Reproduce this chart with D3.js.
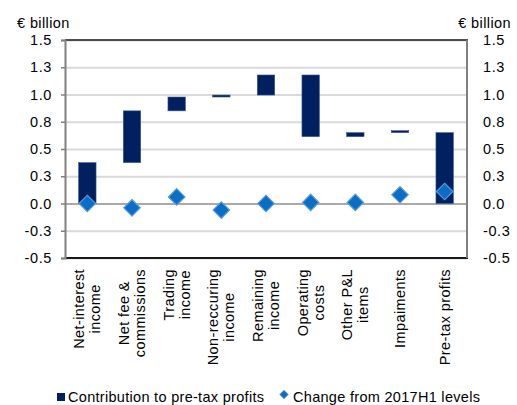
<!DOCTYPE html>
<html>
<head>
<meta charset="utf-8">
<script src="https://cdn.jsdelivr.net/npm/d3@7"></script>
<style>
  html, body { margin: 0; padding: 0; background: #ffffff; }
  svg { display: block; font-family: "Liberation Sans", Arial, sans-serif; }
</style>
</head>
<body>
<svg id="chart" width="517" height="405"></svg>
<script>
// ---- data ----
const categories = [
  ["Net-interest", "income"],
  ["Net fee &", "commissions"],
  ["Trading", "income"],
  ["Non-reccuring", "income"],
  ["Remaining", "income"],
  ["Operating", "costs"],
  ["Other P&L", "items"],
  ["Impaiments"],
  ["Pre-tax profits"]
];
const barLow  = [0.000, 0.375, 0.850, 0.977, 0.995, 0.613, 0.613, 0.650, 0.000];
const barHigh = [0.375, 0.850, 0.977, 0.995, 1.179, 1.179, 0.650, 0.668, 0.650];
const changeValues = [0.00, -0.04, 0.06, -0.06, 0.00, 0.01, 0.01, 0.08, 0.11];
const yTicks = [-0.5, -0.25, 0, 0.25, 0.5, 0.75, 1.0, 1.25, 1.5];
const yTickLabels = ["-0.5", "-0.3", "0.0", "0.3", "0.5", "0.8", "1.0", "1.3", "1.5"];
const unitLabel = "€ billion";
const seriesNames = ["Contribution to pre-tax profits", "Change from 2017H1 levels"];

// ---- layout ----
const svg = d3.select("#chart");
const plot = { left: 65, right: 467, top: 40, bottom: 258 };
const barColor = "#002060";
const diamondColor = "#0a6ec4";

const x = d3.scaleBand()
  .domain(d3.range(categories.length))
  .range([plot.left, plot.right])
  .paddingInner(0).paddingOuter(0);
const y = d3.scaleLinear().domain([-0.5, 1.5]).range([plot.bottom, plot.top]);

svg.append("rect").attr("width", 517).attr("height", 405).attr("fill", "#fff");

// gridlines
const grid = svg.append("g")
  .attr("transform", `translate(${plot.left},0)`)
  .call(d3.axisLeft(y).tickValues(yTicks).tickSize(-(plot.right - plot.left)).tickFormat(""));
grid.select(".domain").remove();
grid.selectAll(".tick line")
  .attr("stroke", d => d === 0 ? "#8c8c8c" : "#d9d9d9")
  .attr("stroke-width", d => d === 0 ? 1.5 : 2);

// plot border: top & bottom dark, right gray
svg.append("line").attr("x1", plot.left).attr("x2", plot.right + 1)
  .attr("y1", y(1.5)).attr("y2", y(1.5)).attr("stroke", "#1a1a1a").attr("stroke-width", 1.5);
svg.append("line").attr("x1", plot.left).attr("x2", plot.right + 1)
  .attr("y1", y(-0.5)).attr("y2", y(-0.5)).attr("stroke", "#1a1a1a").attr("stroke-width", 2);
svg.append("line").attr("x1", plot.right).attr("x2", plot.right)
  .attr("y1", y(1.5)).attr("y2", y(-0.5)).attr("stroke", "#808080").attr("stroke-width", 2);

// left axis
const leftAxis = svg.append("g")
  .attr("transform", `translate(${plot.left},0)`)
  .call(d3.axisLeft(y).tickValues(yTicks).tickFormat((d, i) => yTickLabels[i]).tickSize(4).tickPadding(9));
leftAxis.select(".domain").attr("stroke", "#808080").attr("stroke-width", 2);
leftAxis.selectAll(".tick line").attr("stroke", "#808080").attr("stroke-width", 1.5);
leftAxis.selectAll(".tick text")
  .attr("font-size", 14.5).attr("fill", "#000").style("letter-spacing", "0.6px")
  .attr("font-family", "Liberation Sans, Arial, sans-serif");

// right axis (labels only)
const rightAxis = svg.append("g")
  .attr("transform", `translate(${plot.right},0)`)
  .call(d3.axisRight(y).tickValues(yTicks).tickFormat((d, i) => yTickLabels[i]).tickSize(0).tickPadding(16));
rightAxis.select(".domain").remove();
rightAxis.selectAll(".tick text")
  .attr("font-size", 14.5).attr("fill", "#000").style("letter-spacing", "0.6px")
  .attr("font-family", "Liberation Sans, Arial, sans-serif");

// unit labels
svg.append("text").attr("x", 17).attr("y", 28).attr("font-size", 14.5)
  .style("letter-spacing", "0.4px").text(unitLabel);
svg.append("text").attr("x", 511).attr("y", 28).attr("font-size", 14.5)
  .attr("text-anchor", "end").style("letter-spacing", "0.4px").text(unitLabel);

// bars
const barW = x.bandwidth() * 0.39;
svg.append("g").selectAll("rect")
  .data(categories.map((c, i) => i))
  .join("rect")
  .attr("x", i => x(i) + x.bandwidth() / 2 - barW / 2)
  .attr("width", barW)
  .attr("y", i => y(barHigh[i]))
  .attr("height", i => Math.max(1, y(barLow[i]) - y(barHigh[i])))
  .attr("fill", barColor)
  .attr("stroke", "#3d5a94").attr("stroke-width", 0.6);

// diamonds
const diamond = d3.symbol().type(d3.symbolSquare).size(136);
svg.append("g").selectAll("path")
  .data(changeValues)
  .join("path")
  .attr("d", diamond)
  .attr("transform", (d, i) => `translate(${x(i) + x.bandwidth() / 2},${y(d)}) rotate(45)`)
  .attr("fill", diamondColor)
  .attr("stroke", "#5a9be0").attr("stroke-width", 1.2);

// category labels (rotated, anchored at top, lines centred on each other)
const labelTop = 269;
const lineGap = 16;
const lab = svg.append("g").selectAll("g")
  .data(categories)
  .join("g")
  .attr("transform", (d, i) => `translate(${x(i) + x.bandwidth() / 2},${labelTop}) rotate(-90)`);
lab.each(function(lines) {
  const g = d3.select(this);
  const n = lines.length;
  const texts = lines.map((t, j) => g.append("text")
    .attr("font-size", 14.5)
    .style("letter-spacing", "0.4px")
    .attr("dominant-baseline", "central")
    .attr("text-anchor", "middle")
    .attr("y", (j - (n - 1) / 2) * lineGap)
    .text(t));
  const maxW = d3.max(texts, t => t.node().getComputedTextLength());
  texts.forEach(t => t.attr("x", -maxW / 2));
});

// legend
const leg = svg.append("g");
leg.append("rect").attr("x", 57).attr("y", 393).attr("width", 8).attr("height", 8).attr("fill", barColor);
leg.append("text").attr("x", 68).attr("y", 402).attr("font-size", 14.5)
  .style("letter-spacing", "0.3px").text(seriesNames[0]);
leg.append("path")
  .attr("d", d3.symbol().type(d3.symbolSquare).size(36))
  .attr("transform", "translate(284,394.5) rotate(45)")
  .attr("fill", diamondColor).attr("stroke", "#5a9be0").attr("stroke-width", 0.8);
leg.append("text").attr("x", 293).attr("y", 402).attr("font-size", 14.5)
  .style("letter-spacing", "0.3px").text(seriesNames[1]);
</script>
</body>
</html>
